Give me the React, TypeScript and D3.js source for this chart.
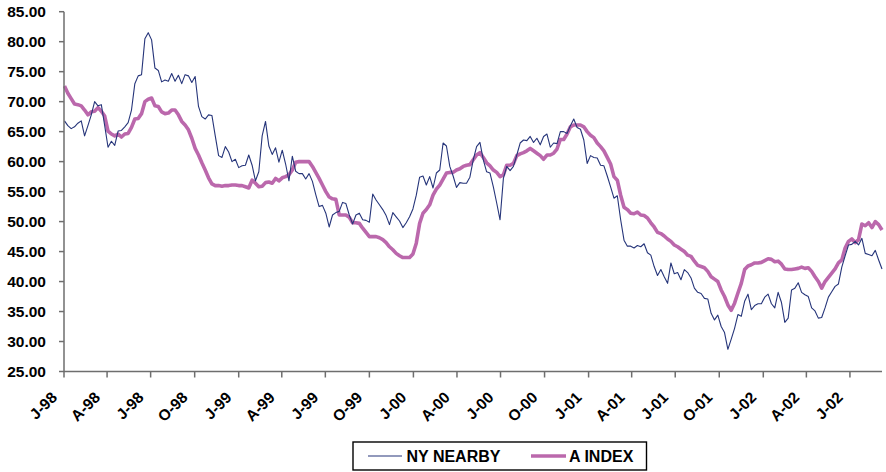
import React from "react";
import * as d3 from "d3";

const nyNearby: number[] = [
  66.8, 66.0, 65.5, 65.8, 66.4, 66.8, 64.3, 66.0, 67.8, 70.0,
  69.3, 69.5, 66.0, 62.4, 63.4, 62.7, 65.1, 65.2, 65.8, 66.5,
  68.6, 73.0, 74.3, 74.5, 80.5, 81.5, 80.3, 75.6, 75.2, 73.3,
  73.6, 73.4, 74.7, 73.4, 74.4, 73.0, 74.5, 74.3, 73.2, 74.2,
  69.2, 67.5, 67.1, 67.8, 67.7, 64.3, 61.0, 60.7, 62.5, 61.6,
  60.0, 60.4, 59.0, 59.3, 59.4, 61.1, 59.4, 56.8, 58.3, 64.3,
  66.7, 62.6, 61.2, 62.3, 59.9, 61.9, 59.6, 56.8, 60.9, 58.4,
  58.0, 58.0, 57.1, 58.0, 56.7, 54.5, 52.5, 52.7, 51.4, 49.1,
  51.1, 51.5, 51.7, 53.2, 53.0, 51.1, 49.6, 51.1, 51.4, 50.3,
  50.2, 49.9, 54.6, 53.6, 52.8, 52.0, 51.0, 49.5, 51.5, 50.8,
  50.1, 49.0, 49.8, 50.8, 52.1, 54.4, 57.4, 57.6, 56.1, 57.5,
  55.6, 58.1, 58.6, 63.1, 62.6, 59.2, 57.6, 55.7, 56.5, 56.4,
  56.4, 57.4, 60.3, 62.5, 63.2, 60.3, 58.3, 58.1, 55.8, 53.1,
  50.3, 57.2, 59.2, 58.5, 59.2, 61.1, 63.1, 63.6, 63.5, 64.2,
  63.2, 63.9, 62.8, 64.2, 64.6, 62.4, 63.1, 63.0, 65.0, 65.0,
  64.7, 66.0, 67.1, 65.7, 65.4, 63.6, 59.7, 61.0, 60.7, 60.6,
  59.4, 59.3, 57.6, 55.8, 53.9, 54.3, 50.3, 46.9, 45.9, 45.9,
  45.6, 46.0, 45.8, 46.3, 44.8, 44.4, 42.5, 41.0, 42.0, 40.8,
  39.7, 43.1, 41.3, 41.5, 40.3, 42.0, 41.5, 40.6, 38.9, 38.2,
  38.0, 37.2, 37.1, 34.7, 33.6, 34.4, 32.5, 31.5, 28.7, 30.4,
  32.2, 34.5, 34.2, 36.7, 37.9, 35.3, 36.0, 36.3, 36.3, 37.4,
  37.9, 36.3, 35.6, 38.2, 36.5, 33.2, 33.9, 38.6, 38.9, 39.8,
  38.2, 37.8, 37.5, 35.6, 35.1, 33.9, 34.0, 35.6, 37.4, 38.3,
  39.2, 39.6, 42.4, 44.3, 46.1, 46.2, 46.7, 46.1, 47.2, 44.7,
  44.5, 44.3, 45.2, 43.6, 42.1,
];

const aIndex: number[] = [
  72.6, 71.4, 70.5, 69.6, 69.5, 69.3, 68.6, 67.8, 68.3, 68.4,
  69.0, 68.4, 67.6, 65.1, 64.6, 64.3, 64.6, 64.1, 64.6, 64.7,
  65.7, 67.1, 67.2, 68.0, 70.0, 70.4, 70.6, 69.3, 69.2, 68.3,
  68.0, 68.1, 68.6, 68.6, 67.8, 66.7, 66.1, 65.3, 63.9, 62.2,
  61.1, 59.8, 58.6, 57.3, 56.3, 56.0, 56.0, 55.9, 56.0, 56.0,
  56.1, 56.1, 56.0, 56.0, 55.8, 55.6, 56.9, 56.4, 55.8, 55.9,
  56.5, 56.6, 56.4, 57.2, 56.8, 57.3, 57.5, 57.8, 58.6, 59.9,
  60.0, 60.0, 60.0, 60.0, 59.2, 58.2, 57.2, 56.1, 55.0, 54.1,
  53.8, 53.7, 51.1, 51.1, 51.1, 50.7, 49.8, 49.8, 49.7, 48.9,
  48.2, 47.5, 47.5, 47.5, 47.3, 47.0, 46.5, 45.8, 45.3, 44.7,
  44.3, 44.0, 44.0, 44.0, 44.6, 46.4, 49.7, 51.4, 52.0, 52.8,
  54.4, 55.4, 56.1, 57.1, 58.1, 58.2, 58.2, 58.6, 58.8, 59.2,
  59.4, 59.5, 60.3, 61.1, 61.5, 60.7, 59.8, 59.3, 58.6, 58.2,
  57.5, 57.8, 59.4, 59.4, 59.7, 61.0, 61.3, 61.5, 61.8, 62.2,
  61.8, 61.4, 61.0, 60.4, 61.1, 61.1, 61.4, 62.1, 63.7, 63.7,
  64.6, 65.8, 66.1, 66.1, 66.1, 65.8, 65.0, 64.4, 64.0, 63.1,
  62.5, 61.8, 60.7, 59.6, 57.5, 56.9, 54.4, 52.4, 52.0, 51.4,
  51.3, 51.6, 51.1, 51.0, 50.6, 49.8, 49.1, 48.2, 48.0, 47.6,
  47.1, 46.7, 46.1, 45.8, 45.4, 45.0, 44.4, 44.2, 43.4, 42.7,
  42.5, 42.3, 41.7, 40.8, 40.4, 40.0, 38.6, 37.5, 36.1, 35.2,
  36.4, 38.1, 39.7, 42.0, 42.6, 42.8, 43.1, 43.1, 43.2, 43.5,
  43.8, 43.7, 43.3, 43.4, 42.9, 42.1, 42.0, 42.0, 42.1, 42.2,
  42.4, 42.2, 42.3, 41.7, 40.8, 40.0, 38.9, 40.0, 40.7, 41.4,
  42.1, 43.1, 43.6, 45.6, 46.7, 47.1, 46.5, 47.0, 49.6, 49.3,
  49.8, 49.0, 50.0, 49.5, 48.6,
];

const tickLabels: string[] = [
  "J-98", "A-98", "J-98", "O-98", "J-99", "A-99", "J-99", "O-99",
  "J-00", "A-00", "J-00", "O-00", "J-01", "A-01", "J-01", "O-01",
  "J-02", "A-02", "J-02",
];

const yTicks: number[] = [25, 30, 35, 40, 45, 50, 55, 60, 65, 70, 75, 80, 85];

const seriesNames: string[] = ["NY NEARBY", "A INDEX"];

const W = 886;
const H = 472;
const FONT = "'Liberation Sans', Arial, sans-serif";
const NY_COLOR = "#26357a";
const A_COLOR = "#bb68ac";
const AXIS_COLOR = "#6e6e6e";

export default function App() {
  const firstWeek = new Date(1998, 0, 2);
  const dates = nyNearby.map((_, i) => d3.timeDay.offset(firstWeek, 7 * i));
  const axisStart = new Date(1998, 0, 1);

  const x = d3
    .scaleTime()
    .domain([axisStart, dates[dates.length - 1]])
    .range([64, 882]);
  const y = d3.scaleLinear().domain([25, 85]).range([371.5, 11.7]);

  const tickDates = tickLabels.map((_, i) => new Date(1998, 3 * i, 1));

  const line = d3
    .line<number>()
    .x((_, i) => x(dates[i]))
    .y((d) => y(d));

  const fmt = d3.format(".2f");
  const [x0, x1] = x.range();
  const [yb, yt] = y.range();

  return (
    <svg
      width={W}
      height={H}
      style={{ position: "absolute", left: 0, top: 0, background: "#fff" }}
      fontFamily={FONT}
    >
      {/* series */}
      <path d={line(aIndex) || ""} fill="none" stroke={A_COLOR} strokeWidth={3.6} strokeLinejoin="round" />
      <path d={line(nyNearby) || ""} fill="none" stroke={NY_COLOR} strokeWidth={1.1} strokeLinejoin="round" />

      {/* y axis */}
      <line x1={x0} x2={x0} y1={yt} y2={yb} stroke={AXIS_COLOR} strokeWidth={1.5} />
      {yTicks.map((t) => (
        <g key={t}>
          <line x1={x0 - 5} x2={x0} y1={y(t)} y2={y(t)} stroke={AXIS_COLOR} strokeWidth={1.5} />
          <text
            x={46}
            y={y(t)}
            dy="0.36em"
            textAnchor="end"
            fontSize={15.5}
            fontWeight="bold"
            fill="#000"
          >
            {fmt(t)}
          </text>
        </g>
      ))}

      {/* x axis */}
      <line x1={x0} x2={x1} y1={yb} y2={yb} stroke={AXIS_COLOR} strokeWidth={1.5} />
      {tickDates.map((d, i) => {
        const tx = x(d);
        return (
          <g key={i}>
            <line x1={tx} x2={tx} y1={yb} y2={yb + 6} stroke={AXIS_COLOR} strokeWidth={1.5} />
            <text
              transform={`translate(${tx - 6},${yb + 27}) rotate(-45)`}
              textAnchor="end"
              fontSize={15.5}
              fontWeight="bold"
              fill="#000"
            >
              {tickLabels[i]}
            </text>
          </g>
        );
      })}

      {/* legend */}
      <rect x={353} y={442} width={293.5} height={28} fill="#fff" stroke="#000" strokeWidth={1.4} />
      <line x1={368} x2={402} y1={456} y2={456} stroke={NY_COLOR} strokeWidth={1.1} />
      <text x={406.5} y={462.3} fontSize={16} fontWeight="bold" fill="#000">
        {seriesNames[0]}
      </text>
      <line x1={531} x2={566} y1={456} y2={456} stroke={A_COLOR} strokeWidth={3.6} />
      <text x={569} y={462.3} fontSize={16} fontWeight="bold" fill="#000">
        {seriesNames[1]}
      </text>
    </svg>
  );
}
